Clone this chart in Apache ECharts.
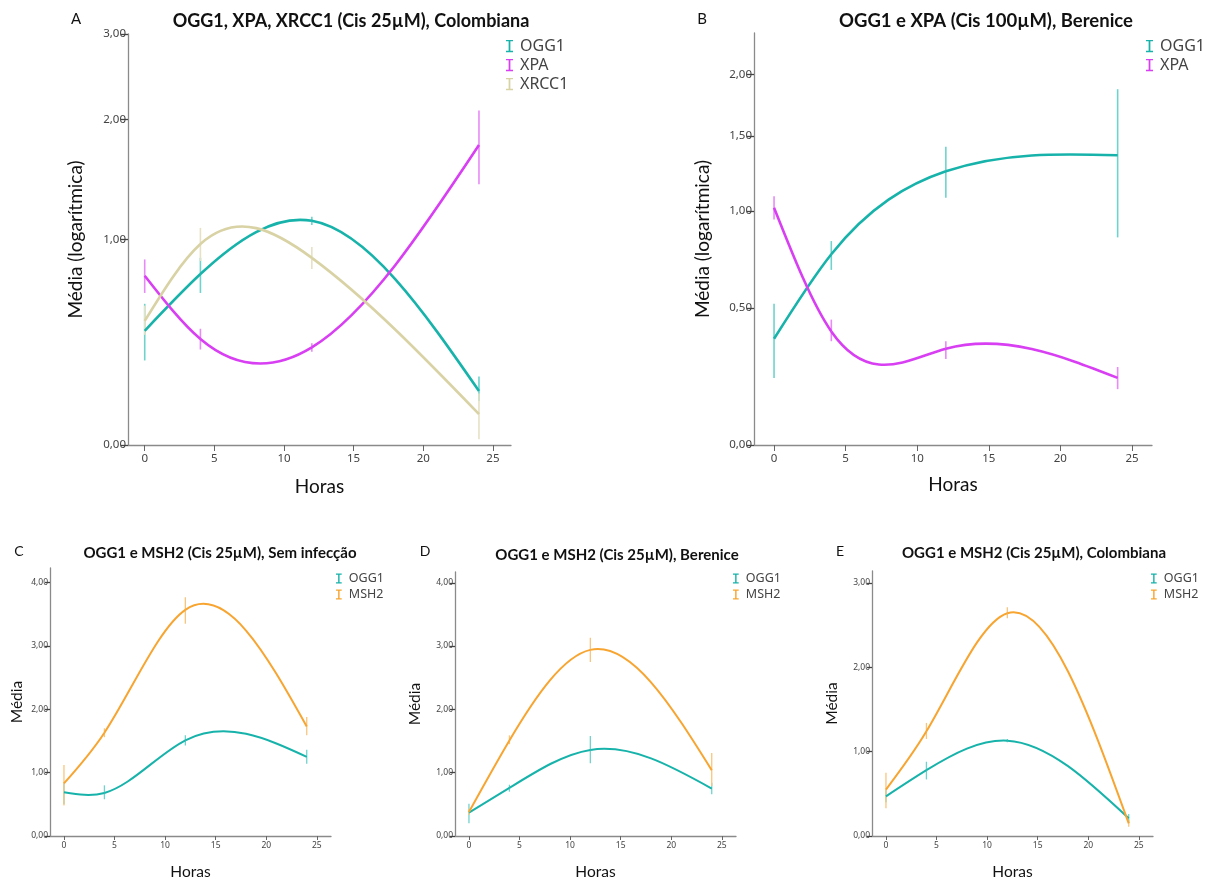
<!DOCTYPE html>
<html>
<head>
<meta charset="utf-8">
<script src="https://cdn.jsdelivr.net/npm/echarts@6/dist/echarts.min.js"></script>
<style>
  html, body { margin: 0; padding: 0; background: #fff; }
  #chart { width: 1216px; height: 881px; }
</style>
</head>
<body>
<div id="chart"></div>
<script>
// Sampling times (hours) shared by every panel
const hours = [0, 4, 12, 24];
const xTickValues = [0, 5, 10, 15, 20, 25];

// Tick labels of the y axes
const yTicksA = [0, 1, 2, 3];
const yTicksB = [0, 0.5, 1, 1.5, 2];
const yTicksC = [0, 1, 2, 3, 4];
const yTicksD = [0, 1, 2, 3, 4];
const yTicksE = [0, 1, 2, 3];

// A: OGG1, XPA, XRCC1 (Cis 25µM), Colombiana — means and error-bar limits
const aOgg1 = [0.47, 0.78, 1.13, 0.20];
const aOgg1Lo = [0.33, 0.67, 1.10, 0.16];
const aOgg1Hi = [0.61, 0.88, 1.16, 0.26];
const aXpa = [0.77, 0.43, 0.39, 1.75];
const aXpaLo = [0.67, 0.38, 0.37, 1.41];
const aXpaHi = [0.87, 0.48, 0.41, 2.09];
const aXrcc1 = [0.52, 0.97, 0.88, 0.11];
const aXrcc1Lo = [0.45, 0.86, 0.81, 0.02];
const aXrcc1Hi = [0.60, 1.08, 0.95, 0.19];

// B: OGG1 e XPA (Cis 100µM), Berenice
const bOgg1 = [0.37, 0.76, 1.25, 1.36];
const bOgg1Lo = [0.22, 0.68, 1.08, 0.85];
const bOgg1Hi = [0.52, 0.83, 1.42, 1.87];
const bXpa = [1.02, 0.40, 0.33, 0.22];
const bXpaLo = [0.95, 0.36, 0.29, 0.18];
const bXpaHi = [1.09, 0.45, 0.36, 0.26];

// C: OGG1 e MSH2 (Cis 25µM), Sem infecção
const cOgg1 = [0.69, 0.68, 1.51, 1.25];
const cOgg1Lo = [0.50, 0.58, 1.43, 1.14];
const cOgg1Hi = [0.85, 0.80, 1.59, 1.36];
const cMsh2 = [0.83, 1.63, 3.57, 1.73];
const cMsh2Lo = [0.48, 1.56, 3.35, 1.59];
const cMsh2Hi = [1.12, 1.70, 3.77, 1.88];

// D: OGG1 e MSH2 (Cis 25µM), Berenice
const dOgg1 = [0.37, 0.76, 1.36, 0.75];
const dOgg1Lo = [0.20, 0.70, 1.15, 0.66];
const dOgg1Hi = [0.51, 0.81, 1.58, 0.84];
const dMsh2 = [0.38, 1.51, 2.94, 1.04];
const dMsh2Lo = [0.33, 1.45, 2.75, 0.79];
const dMsh2Hi = [0.43, 1.59, 3.13, 1.31];

// E: OGG1 e MSH2 (Cis 25µM), Colombiana
const eOgg1 = [0.47, 0.78, 1.13, 0.21];
const eOgg1Lo = [0.40, 0.67, 1.11, 0.15];
const eOgg1Hi = [0.55, 0.88, 1.15, 0.26];
const eMsh2 = [0.55, 1.24, 2.64, 0.15];
const eMsh2Lo = [0.33, 1.15, 2.58, 0.11];
const eMsh2Hi = [0.75, 1.34, 2.71, 0.19];

const COLORS = { OGG1: '#17b3ab', XPA: '#d83ff3', XRCC1: '#d8d2a4', MSH2: '#f7a530' };
const BAR_COLORS = { OGG1: '#6fd3cd', XPA: '#e88af7', XRCC1: '#e6e1c4', MSH2: '#f9c57c' };

// "Safe log" scale: log10(1 + v), so that 0 stays on the axis
const safeLog = v => Math.log10(1 + v);
const unLog = t => Math.pow(10, t) - 1;
const fmt = v => v.toFixed(2).replace('.', ',');
const LABEL_FONT = 'Noto Sans';
const TEXT_FONT = 'Lato';

// Slopes of the natural cubic spline through (xs, ys)
function splineSlopes(xs, ys) {
  const n = xs.length;
  const h = [];
  for (let i = 0; i < n - 1; i++) h.push(xs[i + 1] - xs[i]);
  const M = new Array(n).fill(0);
  const m = n - 2;
  if (m > 0) {
    const a = [], b = [], c = [], d = [];
    for (let i = 1; i <= m; i++) {
      a.push(h[i - 1]);
      b.push(2 * (h[i - 1] + h[i]));
      c.push(h[i]);
      d.push(6 * ((ys[i + 1] - ys[i]) / h[i] - (ys[i] - ys[i - 1]) / h[i - 1]));
    }
    for (let i = 1; i < m; i++) {
      const w = a[i] / b[i - 1];
      b[i] -= w * c[i - 1];
      d[i] -= w * d[i - 1];
    }
    const sol = new Array(m);
    sol[m - 1] = d[m - 1] / b[m - 1];
    for (let i = m - 2; i >= 0; i--) sol[i] = (d[i] - c[i] * sol[i + 1]) / b[i];
    for (let i = 0; i < m; i++) M[i + 1] = sol[i];
  }
  const s = [];
  for (let i = 0; i < n - 1; i++) {
    s.push((ys[i + 1] - ys[i]) / h[i] - h[i] * (2 * M[i] + M[i + 1]) / 6);
  }
  s.push((ys[n - 1] - ys[n - 2]) / h[n - 2] + h[n - 2] * (M[n - 2] + 2 * M[n - 1]) / 6);
  return s;
}

const panels = [
  { grid: { left: 128, top: 34, width: 383, height: 411 }, xMin: -1.2, xMax: 26.3,
    log: true, yMax: 3, yTicks: yTicksA, big: true, yName: 'Média (logarítmica)', yGap: 43, xGap: 32,
    legend: { left: 501, top: 33 },
    series: [
      { name: 'OGG1', v: aOgg1, lo: aOgg1Lo, hi: aOgg1Hi },
      { name: 'XPA', v: aXpa, lo: aXpaLo, hi: aXpaHi },
      { name: 'XRCC1', v: aXrcc1, lo: aXrcc1Lo, hi: aXrcc1Hi }
    ] },
  { grid: { left: 754, top: 33, width: 398, height: 412 }, xMin: -1.4, xMax: 26.4,
    log: true, yMax: 2.39, yTicks: yTicksB, big: true, yName: 'Média (logarítmica)', yGap: 42, xGap: 30,
    legend: { left: 1141, top: 33 },
    series: [
      { name: 'OGG1', v: bOgg1, lo: bOgg1Lo, hi: bOgg1Hi },
      { name: 'XPA', v: bXpa, lo: bXpaLo, hi: bXpaHi }
    ] },
  { grid: { left: 50, top: 568, width: 281, height: 277 }, xMin: -1.38, xMax: 26.4,
    log: false, yMax: 4.23, yTicks: yTicksC, big: false, yName: 'Média', yGap: 25, xGap: 28,
    legend: { left: 331, top: 567 },
    series: [
      { name: 'OGG1', v: cOgg1, lo: cOgg1Lo, hi: cOgg1Hi },
      { name: 'MSH2', v: cMsh2, lo: cMsh2Lo, hi: cMsh2Hi }
    ] },
  { grid: { left: 455, top: 572, width: 281, height: 273 }, xMin: -1.38, xMax: 26.4,
    log: false, yMax: 4.17, yTicks: yTicksD, big: false, yName: 'Média', yGap: 32, xGap: 28,
    legend: { left: 728, top: 567 },
    series: [
      { name: 'OGG1', v: dOgg1, lo: dOgg1Lo, hi: dOgg1Hi },
      { name: 'MSH2', v: dMsh2, lo: dMsh2Lo, hi: dMsh2Hi }
    ] },
  { grid: { left: 872, top: 571, width: 281, height: 274 }, xMin: -1.38, xMax: 26.4,
    log: false, yMax: 3.14, yTicks: yTicksE, big: false, yName: 'Média', yGap: 32, xGap: 28,
    legend: { left: 1146, top: 567 },
    series: [
      { name: 'OGG1', v: eOgg1, lo: eOgg1Lo, hi: eOgg1Hi },
      { name: 'MSH2', v: eMsh2, lo: eMsh2Lo, hi: eMsh2Hi }
    ] }
];

// Panel titles and letters
const titles = [
  { letter: 'A', lx: 76, ly: 19, text: 'OGG1, XPA, XRCC1 (Cis 25µM), Colombiana', x: 351, y: 21, size: 18 },
  { letter: 'B', lx: 702, ly: 19, text: 'OGG1 e XPA (Cis 100µM), Berenice', x: 986, y: 21, size: 18.5 },
  { letter: 'C', lx: 19, ly: 551, text: 'OGG1 e MSH2 (Cis 25µM), Sem infecção', x: 220, y: 553, size: 15 },
  { letter: 'D', lx: 425, ly: 551, text: 'OGG1 e MSH2 (Cis 25µM), Berenice', x: 617, y: 555, size: 15 },
  { letter: 'E', lx: 840, ly: 551, text: 'OGG1 e MSH2 (Cis 25µM), Colombiana', x: 1034, y: 553, size: 15 }
];

// Error-bar glyph used in the legends
const ERRBAR_ICON = 'path://M0,0L8,0L8,1.6L5,1.6L5,12.4L8,12.4L8,14L0,14L0,12.4L3,12.4L3,1.6L0,1.6Z';

const option = {
  animation: false,
  backgroundColor: '#fff',
  grid: [], xAxis: [], yAxis: [], series: [], legend: [],
  graphic: []
};

panels.forEach((p, i) => {
  const tf = p.log ? safeLog : (v => v);
  option.grid.push(Object.assign({ containLabel: false }, p.grid));
  option.xAxis.push({
    type: 'value', gridIndex: i, min: p.xMin, max: p.xMax,
    name: 'Horas', nameLocation: 'middle', nameGap: p.xGap,
    nameTextStyle: { fontFamily: TEXT_FONT, fontSize: p.big ? 19 : 15.5, color: '#111' },
    axisLine: { onZero: false, lineStyle: { color: '#8a8a8a', width: 1.3 } },
    axisTick: { customValues: xTickValues, length: p.big ? 6 : 4, lineStyle: { color: '#666' } },
    axisLabel: { customValues: xTickValues, fontFamily: LABEL_FONT, fontSize: p.big ? 11.5 : 8.5,
      color: '#444', margin: p.big ? 8 : 5 },
    splitLine: { show: false }
  });
  const yCustom = p.yTicks.map(tf);
  option.yAxis.push({
    type: 'value', gridIndex: i, min: 0, max: tf(p.yMax),
    name: p.yName, nameLocation: 'middle', nameGap: p.yGap, nameRotate: 90,
    nameTextStyle: { fontFamily: TEXT_FONT, fontSize: p.big ? 19 : 15.5, color: '#111' },
    axisLine: { show: true, onZero: false, lineStyle: { color: '#8a8a8a', width: 1.3 } },
    axisTick: { show: true, customValues: yCustom, length: p.big ? 7 : 5, lineStyle: { color: '#444', width: 1.3 } },
    axisLabel: { customValues: yCustom, fontFamily: LABEL_FONT, fontSize: p.big ? 11.5 : 8.5,
      color: '#444', margin: 2,
      formatter: v => fmt(p.log ? unLog(v) : v) },
    splitLine: { show: false }
  });

  const legendData = [];
  p.series.forEach(s => {
    const ys = s.v.map(tf);
    const slopes = splineSlopes(hours, ys);
    // error bars (mean ± error) as plain vertical strokes
    option.series.push({
      type: 'custom', name: s.name, xAxisIndex: i, yAxisIndex: i, z: 1,
      itemStyle: { color: COLORS[s.name] },
      data: hours.map((h, k) => [h, tf(s.lo[k]), tf(s.hi[k])]),
      encode: { x: 0, y: [1, 2] },
      renderItem: (params, api) => {
        const a = api.coord([api.value(0), api.value(1)]);
        const b = api.coord([api.value(0), api.value(2)]);
        return { type: 'line', shape: { x1: a[0], y1: a[1], x2: b[0], y2: b[1] },
          style: { stroke: BAR_COLORS[s.name], lineWidth: p.big ? 1.6 : 1.3 } };
      }
    });
    // interpolation curve through the means: each point draws the cubic segment to the next one
    option.series.push({
      type: 'custom', name: s.name, xAxisIndex: i, yAxisIndex: i, z: 2,
      itemStyle: { color: COLORS[s.name] },
      data: hours.map((h, k) => [h, ys[k]]),
      encode: { x: 0, y: 1 },
      renderItem: (params, api) => {
        const k = params.dataIndex;
        if (k >= hours.length - 1) return null;
        const x0 = hours[k], x1 = hours[k + 1], y0 = ys[k], y1 = ys[k + 1];
        const hh = (x1 - x0) / 3;
        const p0 = api.coord([x0, y0]);
        const c0 = api.coord([x0 + hh, y0 + slopes[k] * hh]);
        const c1 = api.coord([x1 - hh, y1 - slopes[k + 1] * hh]);
        const p1 = api.coord([x1, y1]);
        return { type: 'bezierCurve',
          shape: { x1: p0[0], y1: p0[1], x2: p1[0], y2: p1[1],
            cpx1: c0[0], cpy1: c0[1], cpx2: c1[0], cpy2: c1[1] },
          style: { stroke: COLORS[s.name], fill: null, lineWidth: p.big ? 2.6 : 2 } };
      }
    });
    legendData.push({ name: s.name, icon: ERRBAR_ICON, itemStyle: { color: COLORS[s.name] } });
  });

  option.legend.push({
    orient: 'vertical', left: p.legend.left, top: p.legend.top,
    data: legendData, selectedMode: false,
    itemWidth: p.big ? 7 : 6, itemHeight: p.big ? 13 : 10, itemGap: 3,
    textStyle: { fontFamily: LABEL_FONT, fontSize: p.big ? 16 : 12.5, color: '#444', padding: [0, 0, 0, 2] }
  });
});

titles.forEach(t => {
  option.graphic.push({
    type: 'text', x: t.lx, y: t.ly,
    style: { text: t.letter, font: (t.size > 16 ? 15 : 14) + 'px "' + TEXT_FONT + '"', fill: '#111',
      textAlign: 'center', textVerticalAlign: 'middle' }
  });
  option.graphic.push({
    type: 'text', x: t.x, y: t.y,
    style: { text: t.text, font: 'bold ' + t.size + 'px "' + TEXT_FONT + '"', fill: '#111',
      textAlign: 'center', textVerticalAlign: 'middle' }
  });
});

const chart = echarts.init(document.getElementById('chart'), null, { renderer: 'canvas' });
chart.setOption(option);
</script>
</body>
</html>
